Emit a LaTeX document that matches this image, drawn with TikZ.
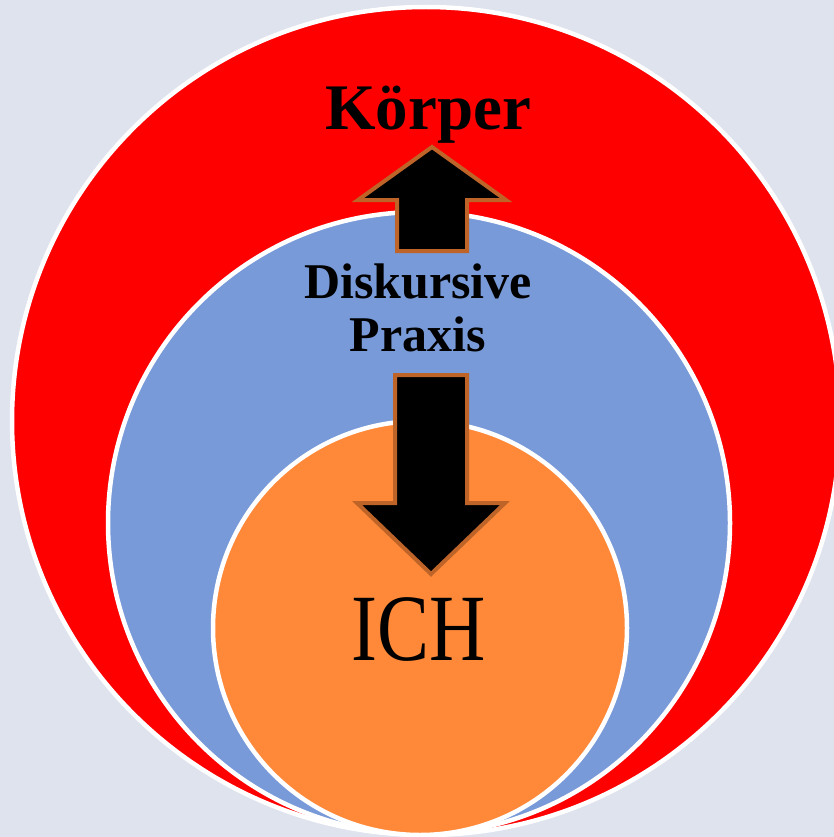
\documentclass[tikz,border=0pt]{standalone}
\usepackage{fontspec}
\usepackage{graphicx}
\setmainfont{Liberation Serif}
\usetikzlibrary{positioning}
\definecolor{bgcol}{RGB}{223,227,238}
\definecolor{praxisblue}{RGB}{120,154,216}
\definecolor{ichorange}{RGB}{255,137,56}
\definecolor{arrowedge}{RGB}{190,100,40}

\begin{document}
\begin{tikzpicture}[x=1pt, y=-1pt,
      ring/.style={circle, draw=white, line width=4.5pt, inner sep=0pt},
      label/.style={inner sep=0pt, anchor=base, text=black},
      blockarrow/.style={fill=black, draw=arrowedge, line width=4pt, line join=miter}]
    \useasboundingbox (0,0) rectangle (834,837);
    \clip (0,0) rectangle (834,837);
    \fill[bgcol] (0,0) rectangle (834,837);
    % nested circles, all touching at the bottom
    \node[ring, fill=red, minimum size=828pt] (koerper) at (426,421) {};
    \node[ring, fill=praxisblue, minimum size=622pt] (praxis) at (419,523) {};
    \node[ring, fill=ichorange, minimum size=414pt] (ich) at (420,628) {};
    % labels
    \node[label, font=\bfseries\fontsize{65}{70}\selectfont] (koerperlabel) at (428,130) {Körper};
    \node[label, font=\bfseries\fontsize{50}{53}\selectfont] (praxislabel1) at (418,298) {Diskursive};
    \node[label, font=\bfseries\fontsize{50}{53}\selectfont] (praxislabel2) at (418,351) {Praxis};
    \node[label, font=\fontsize{95}{100}\selectfont] (ichlabel) at (419,660) {\scalebox{0.82}[1]{ICH}};
    % block arrows
    \draw[blockarrow] (432,147) -- (506,200) -- (467,200) -- (467,251)
      -- (397,251) -- (397,200) -- (358,200) -- cycle;
    \draw[blockarrow] (395,375) -- (467,375) -- (467,503) -- (505,503)
      -- (431,574) -- (357,503) -- (395,503) -- cycle;
  \end{tikzpicture}
\end{document}
